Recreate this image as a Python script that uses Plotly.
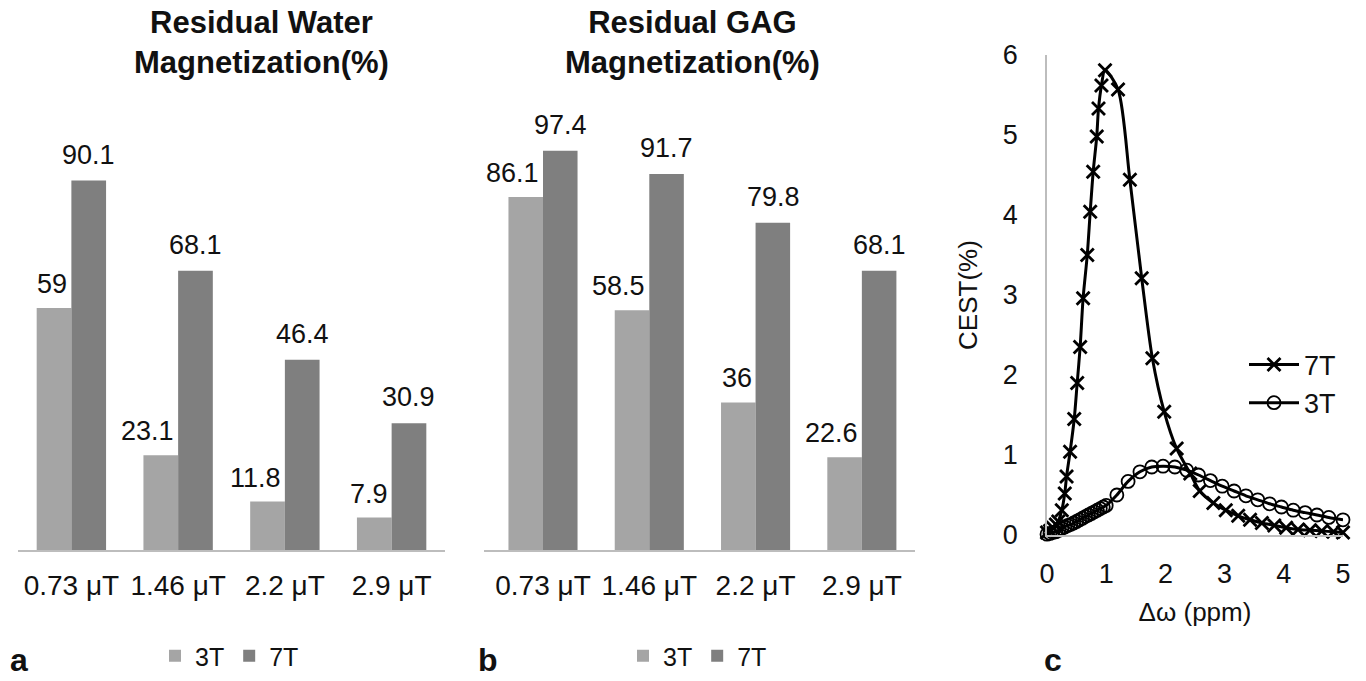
import plotly.graph_objects as go

# ---------------- data ----------------
categories = ["0.73 μT", "1.46 μT", "2.2 μT", "2.9 μT"]
water_3t = [59, 23.1, 11.8, 7.9]
water_7t = [90.1, 68.1, 46.4, 30.9]
gag_3t = [86.1, 58.5, 36, 22.6]
gag_7t = [97.4, 91.7, 79.8, 68.1]

cest_x_7t = [0.0, 0.05, 0.10, 0.15, 0.19, 0.25, 0.30, 0.33, 0.39, 0.46, 0.51, 0.56, 0.61,
             0.68, 0.73, 0.78, 0.84, 0.87, 0.92, 0.98, 1.20, 1.40, 1.60, 1.78, 1.98, 2.19,
             2.42, 2.58, 2.81, 3.02, 3.23, 3.43, 3.63, 3.84, 4.04, 4.24, 4.44, 4.64, 4.84, 5.0]
cest_y_7t = [0.03, 0.05, 0.09, 0.13, 0.17, 0.31, 0.52, 0.73, 1.04, 1.45, 1.90, 2.35, 2.96,
             3.50, 4.04, 4.54, 4.98, 5.33, 5.62, 5.81, 5.57, 4.44, 3.21, 2.21, 1.54, 1.08,
             0.77, 0.55, 0.40, 0.31, 0.24, 0.19, 0.15, 0.12, 0.09, 0.07, 0.06, 0.05, 0.04, 0.03]

cest_x_3t = [0.0, 0.05, 0.10, 0.15, 0.20, 0.25, 0.30, 0.35, 0.40, 0.45, 0.50, 0.55, 0.60,
             0.65, 0.70, 0.75, 0.80, 0.85, 0.90, 0.95, 1.00, 1.18, 1.37, 1.57, 1.77, 1.96,
             2.16, 2.36, 2.56, 2.76, 2.96, 3.16, 3.36, 3.56, 3.76, 3.96, 4.16, 4.36, 4.56,
             4.76, 5.0]
cest_y_3t = [0.01, 0.02, 0.03, 0.04, 0.06, 0.08, 0.10, 0.12, 0.13, 0.15, 0.17, 0.19, 0.21,
             0.23, 0.25, 0.27, 0.29, 0.31, 0.33, 0.35, 0.37, 0.50, 0.67, 0.79, 0.85, 0.86,
             0.85, 0.81, 0.75, 0.68, 0.61, 0.55, 0.49, 0.44, 0.39, 0.35, 0.31, 0.28, 0.25,
             0.22, 0.19]

# ---------------- style ----------------
W, H = 1366, 681
FONT = "Liberation Sans, Arial, sans-serif"
C3 = "#a5a5a5"
C7 = "#7f7f7f"
AXC = "#bdbdbd"
TXT = "#111111"
BARGAP = 0.35

dom_a = [18 / W, 445 / W]
dom_b = [484 / W, 915 / W]
dom_c = [1047 / W, 1343 / W]
ydom_bar = [(H - 550) / H, (H - 140) / H]
ydom_c = [(H - 535) / H, (H - 55) / H]

fig = go.Figure()

# bars panel a
fig.add_trace(go.Bar(x=categories, y=water_3t, name="3T", marker_color=C3, xaxis="x", yaxis="y",
                     legend="legend", marker_line_width=0))
fig.add_trace(go.Bar(x=categories, y=water_7t, name="7T", marker_color=C7, xaxis="x", yaxis="y",
                     legend="legend", marker_line_width=0))
# bars panel b
fig.add_trace(go.Bar(x=categories, y=gag_3t, name="3T", marker_color=C3, xaxis="x2", yaxis="y2",
                     legend="legend2", marker_line_width=0))
fig.add_trace(go.Bar(x=categories, y=gag_7t, name="7T", marker_color=C7, xaxis="x2", yaxis="y2",
                     legend="legend2", marker_line_width=0))
# panel c
fig.add_trace(go.Scatter(x=cest_x_7t, y=cest_y_7t, name="7T", mode="lines+markers",
                         line=dict(color="black", width=3, shape="spline", smoothing=0.8),
                         marker=dict(symbol="x-thin-open", size=13, color="black",
                                     line=dict(color="black", width=2.8)),
                         xaxis="x3", yaxis="y3", legend="legend3", cliponaxis=False))
fig.add_trace(go.Scatter(x=cest_x_3t, y=cest_y_3t, name="3T", mode="lines+markers",
                         line=dict(color="black", width=3, shape="spline", smoothing=0.8),
                         marker=dict(symbol="circle-open", size=13, color="black",
                                     line=dict(color="black", width=1.8)),
                         xaxis="x3", yaxis="y3", legend="legend3", cliponaxis=False))

annotations = []
# value labels on bars
for dom, xref, yref, s3, s7 in [(dom_a, "x", "y", water_3t, water_7t),
                                (dom_b, "x2", "y2", gag_3t, gag_7t)]:
    cat_px = (dom[1] - dom[0]) * W / len(categories)
    bar_px = cat_px * (1 - BARGAP) / 2
    for c, v3, v7 in zip(categories, s3, s7):
        annotations.append(dict(x=c, y=v3, xref=xref, yref=yref, text=f"{v3:g}",
                                showarrow=False, xanchor="right", yanchor="bottom",
                                xshift=-2, yshift=7,
                                font=dict(family=FONT, size=27, color=TXT)))
        annotations.append(dict(x=c, y=v7, xref=xref, yref=yref, text=f"{v7:g}",
                                showarrow=False, xanchor="center", yanchor="bottom",
                                xshift=bar_px / 2, yshift=9,
                                font=dict(family=FONT, size=27, color=TXT)))

# panel titles
annotations.append(dict(x=261 / W, y=(H - 42) / H, xref="paper", yref="paper",
                        text="<b>Residual Water<br>Magnetization(%)</b>", showarrow=False,
                        xanchor="center", yanchor="middle",
                        font=dict(family=FONT, size=31, color=TXT)))
annotations.append(dict(x=692 / W, y=(H - 42) / H, xref="paper", yref="paper",
                        text="<b>Residual GAG<br>Magnetization(%)</b>", showarrow=False,
                        xanchor="center", yanchor="middle",
                        font=dict(family=FONT, size=31, color=TXT)))
# panel letters
for letter, px in [("a", 8), ("b", 476), ("c", 1042)]:
    annotations.append(dict(x=px / W, y=(H - 660) / H, xref="paper", yref="paper",
                            text=f"<b>{letter}</b>", showarrow=False,
                            xanchor="left", yanchor="middle",
                            font=dict(family=FONT, size=32, color=TXT)))

bar_xaxis = dict(type="category", showline=True, linecolor=AXC, linewidth=1.5, ticks="",
                 showgrid=False, zeroline=False, ticklabelstandoff=10, automargin=False,
                 tickfont=dict(family=FONT, size=28, color=TXT))
bar_yaxis = dict(range=[0, 100], visible=False, showgrid=False, zeroline=False,
                 automargin=False)

fig.update_layout(
    width=W, height=H,
    margin=dict(l=0, r=0, t=0, b=0, pad=0, autoexpand=False),
    paper_bgcolor="white", plot_bgcolor="white",
    barmode="group", bargap=BARGAP, bargroupgap=0,
    font=dict(family=FONT, color=TXT),
    xaxis=dict(domain=dom_a, anchor="y", **bar_xaxis),
    yaxis=dict(domain=ydom_bar, anchor="x", **bar_yaxis),
    xaxis2=dict(domain=dom_b, anchor="y2", **bar_xaxis),
    yaxis2=dict(domain=ydom_bar, anchor="x2", **bar_yaxis),
    xaxis3=dict(domain=dom_c, anchor="y3", range=[0, 5], dtick=1, showline=True,
                linecolor=AXC, linewidth=1.5, ticks="", showgrid=False, zeroline=False,
                ticklabelstandoff=14, automargin=False,
                tickfont=dict(family=FONT, size=27, color=TXT),
                title=dict(text="Δω (ppm)", standoff=15,
                           font=dict(family=FONT, size=26, color=TXT))),
    yaxis3=dict(domain=ydom_c, anchor="x3", range=[0, 6], dtick=1, showline=True,
                linecolor=AXC, linewidth=1.5, ticks="", showgrid=False, zeroline=False,
                ticklabelstandoff=22, automargin=False,
                tickfont=dict(family=FONT, size=27, color=TXT),
                title=dict(text="CEST(%)", standoff=18,
                           font=dict(family=FONT, size=26, color=TXT))),
    legend=dict(orientation="h", x=155 / W, y=(H - 656) / H, xanchor="left", yanchor="middle",
                font=dict(family=FONT, size=25, color=TXT), bgcolor="rgba(0,0,0,0)"),
    legend2=dict(orientation="h", x=623 / W, y=(H - 656) / H, xanchor="left", yanchor="middle",
                 font=dict(family=FONT, size=25, color=TXT), bgcolor="rgba(0,0,0,0)"),
    legend3=dict(orientation="v", x=1244 / W, y=(H - 384) / H, xanchor="left", yanchor="middle",
                 font=dict(family=FONT, size=27, color=TXT), bgcolor="rgba(0,0,0,0)",
                 tracegroupgap=0, itemwidth=50),
    annotations=annotations,
    showlegend=True,
)

fig.write_html("out.html", config={"displayModeBar": False},
               post_script="document.body.style.margin='0';document.body.style.overflow='hidden';")
